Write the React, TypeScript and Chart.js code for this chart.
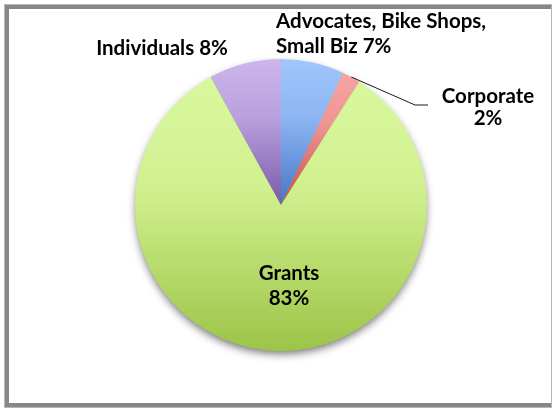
import React, { useEffect, useRef } from "react";
import { Chart, registerables } from "chart.js";

Chart.register(...registerables);

// ---- data ----
const categories = ["Advocates, Bike Shops, Small Biz", "Corporate", "Grants", "Individuals"];
const shares = [7, 2, 83, 8];
// label text lines ({v} is replaced by the slice value)
const labelLines = [
  ["Advocates, Bike Shops,", "Small Biz {v}%"],
  ["Corporate", "{v}%"],
  ["Grants", "{v}%"],
  ["Individuals {v}%"],
];
// gradient colours (top -> bottom of each slice)
const lightColors = ["#A0C6FB", "#F7A4A3", "#D9F89E", "#CCB6EC"];
const midColors = ["#8DB5F2", "#F09393", "#D1F190", "#B9A0DE"];
const baseColors = ["#4577C6", "#CC4B4A", "#9CC447", "#7A5AA8"];

// ---- layout (offsets from pie centre, px) ----
const labelLayout = [
  { dx: -5, dy: -177, align: "left" as CanvasTextAlign, lh: 25 },
  { dx: 207, dy: -102, align: "center" as CanvasTextAlign, lh: 22 },
  { dx: 8, dy: 75, align: "center" as CanvasTextAlign, lh: 25 },
  { dx: -119, dy: -150, align: "center" as CanvasTextAlign, lh: 25 },
];
const leaderIndex = 1;
const leaderElbow = { dx: 134, dy: -100 };
const leaderEnd = { dx: 147, dy: -100 };
const FONT = "bold 20.5px Lato";

function sliceGradient(c: any) {
  const i = c.dataIndex;
  if (i === undefined) return baseColors[0];
  const chart = c.chart;
  const area = chart.chartArea;
  if (!area) return baseColors[i];
  const cx = (area.left + area.right) / 2;
  const cy = (area.top + area.bottom) / 2;
  const r = Math.min(area.right - area.left, area.bottom - area.top) / 2;
  const data = chart.data.datasets[0].data as number[];
  const total = data.reduce((a, b) => a + b, 0);
  let before = 0;
  for (let k = 0; k < i; k++) before += data[k];
  const a0 = -Math.PI / 2 + (before / total) * Math.PI * 2;
  const a1 = a0 + (data[i] / total) * Math.PI * 2;
  const ys = [cy, cy + r * Math.sin(a0), cy + r * Math.sin(a1)];
  for (const k of [-Math.PI / 2, Math.PI / 2, (3 * Math.PI) / 2]) {
    if (k >= a0 && k <= a1) ys.push(cy + r * Math.sin(k));
  }
  const top = Math.min(...ys);
  const bottom = Math.max(...ys);
  const g = chart.ctx.createLinearGradient(0, top, 0, Math.max(bottom, top + 1));
  g.addColorStop(0, lightColors[i]);
  g.addColorStop(0.4, midColors[i]);
  g.addColorStop(1, baseColors[i]);
  return g;
}

const shadowPlugin = {
  id: "pieShadow",
  beforeDatasetsDraw(chart: any) {
    const arc = chart.getDatasetMeta(0).data[0];
    if (!arc) return;
    const ctx = chart.ctx;
    ctx.save();
    ctx.shadowColor = "rgba(0,0,0,0.55)";
    ctx.shadowBlur = 9;
    ctx.shadowOffsetX = 0;
    ctx.shadowOffsetY = 4;
    ctx.fillStyle = "#9CC447";
    ctx.beginPath();
    ctx.arc(arc.x, arc.y, arc.outerRadius - 1, 0, Math.PI * 2);
    ctx.fill();
    ctx.restore();
  },
};

const labelPlugin = {
  id: "pieLabels",
  afterDatasetsDraw(chart: any) {
    const meta = chart.getDatasetMeta(0);
    const arcs = meta.data;
    if (!arcs.length) return;
    const cx = arcs[0].x;
    const cy = arcs[0].y;
    const r = arcs[0].outerRadius;
    const ctx = chart.ctx;
    ctx.save();
    // leader line
    const la = arcs[leaderIndex];
    const mid = (la.startAngle + la.endAngle) / 2;
    ctx.strokeStyle = "#1a1a1a";
    ctx.lineWidth = 1;
    ctx.beginPath();
    ctx.moveTo(cx + r * Math.cos(mid), cy + r * Math.sin(mid));
    ctx.lineTo(cx + leaderElbow.dx, cy + leaderElbow.dy);
    ctx.lineTo(cx + leaderEnd.dx, cy + leaderEnd.dy);
    ctx.stroke();

    ctx.fillStyle = "#000";
    ctx.font = FONT;
    ctx.textBaseline = "alphabetic";
    shares.forEach((v, i) => {
      const lay = labelLayout[i];
      ctx.textAlign = lay.align;
      labelLines[i].forEach((line, j) => {
        ctx.fillText(line.replace("{v}", String(v)), cx + lay.dx, cy + lay.dy + j * lay.lh);
      });
    });
    ctx.restore();
  },
};

export default function App() {
  const ref = useRef<HTMLCanvasElement | null>(null);
  useEffect(() => {
    if (!ref.current) return;
    const chart = new Chart(ref.current, {
      type: "pie",
      data: {
        labels: categories,
        datasets: [
          {
            data: shares,
            backgroundColor: sliceGradient as any,
            borderWidth: 0,
          },
        ],
      },
      options: {
        responsive: false,
        animation: false,
        devicePixelRatio: 1,
        events: [],
        layout: { padding: { left: 135, right: 125, top: 59, bottom: 57 } },
        plugins: { legend: { display: false }, tooltip: { enabled: false } },
      },
      plugins: [shadowPlugin, labelPlugin],
    });
    return () => chart.destroy();
  }, []);
  return (
    <div style={{ position: "fixed", left: 0, top: 0, width: 552, height: 408, background: "#fff", overflow: "hidden" }}>
      <div
        style={{
          position: "absolute",
          left: 4,
          top: 4,
          width: 552,
          height: 404,
          boxSizing: "border-box",
          border: "5px solid #878787",
        }}
      />
      <div
        style={{
          position: "absolute",
          left: 4,
          top: 4,
          width: 548,
          height: 404,
          boxSizing: "border-box",
          border: "1px solid #b5b5b5",
        }}
      />
      <canvas ref={ref} width={552} height={408} style={{ position: "absolute", left: 0, top: 0 }} />
    </div>
  );
}
